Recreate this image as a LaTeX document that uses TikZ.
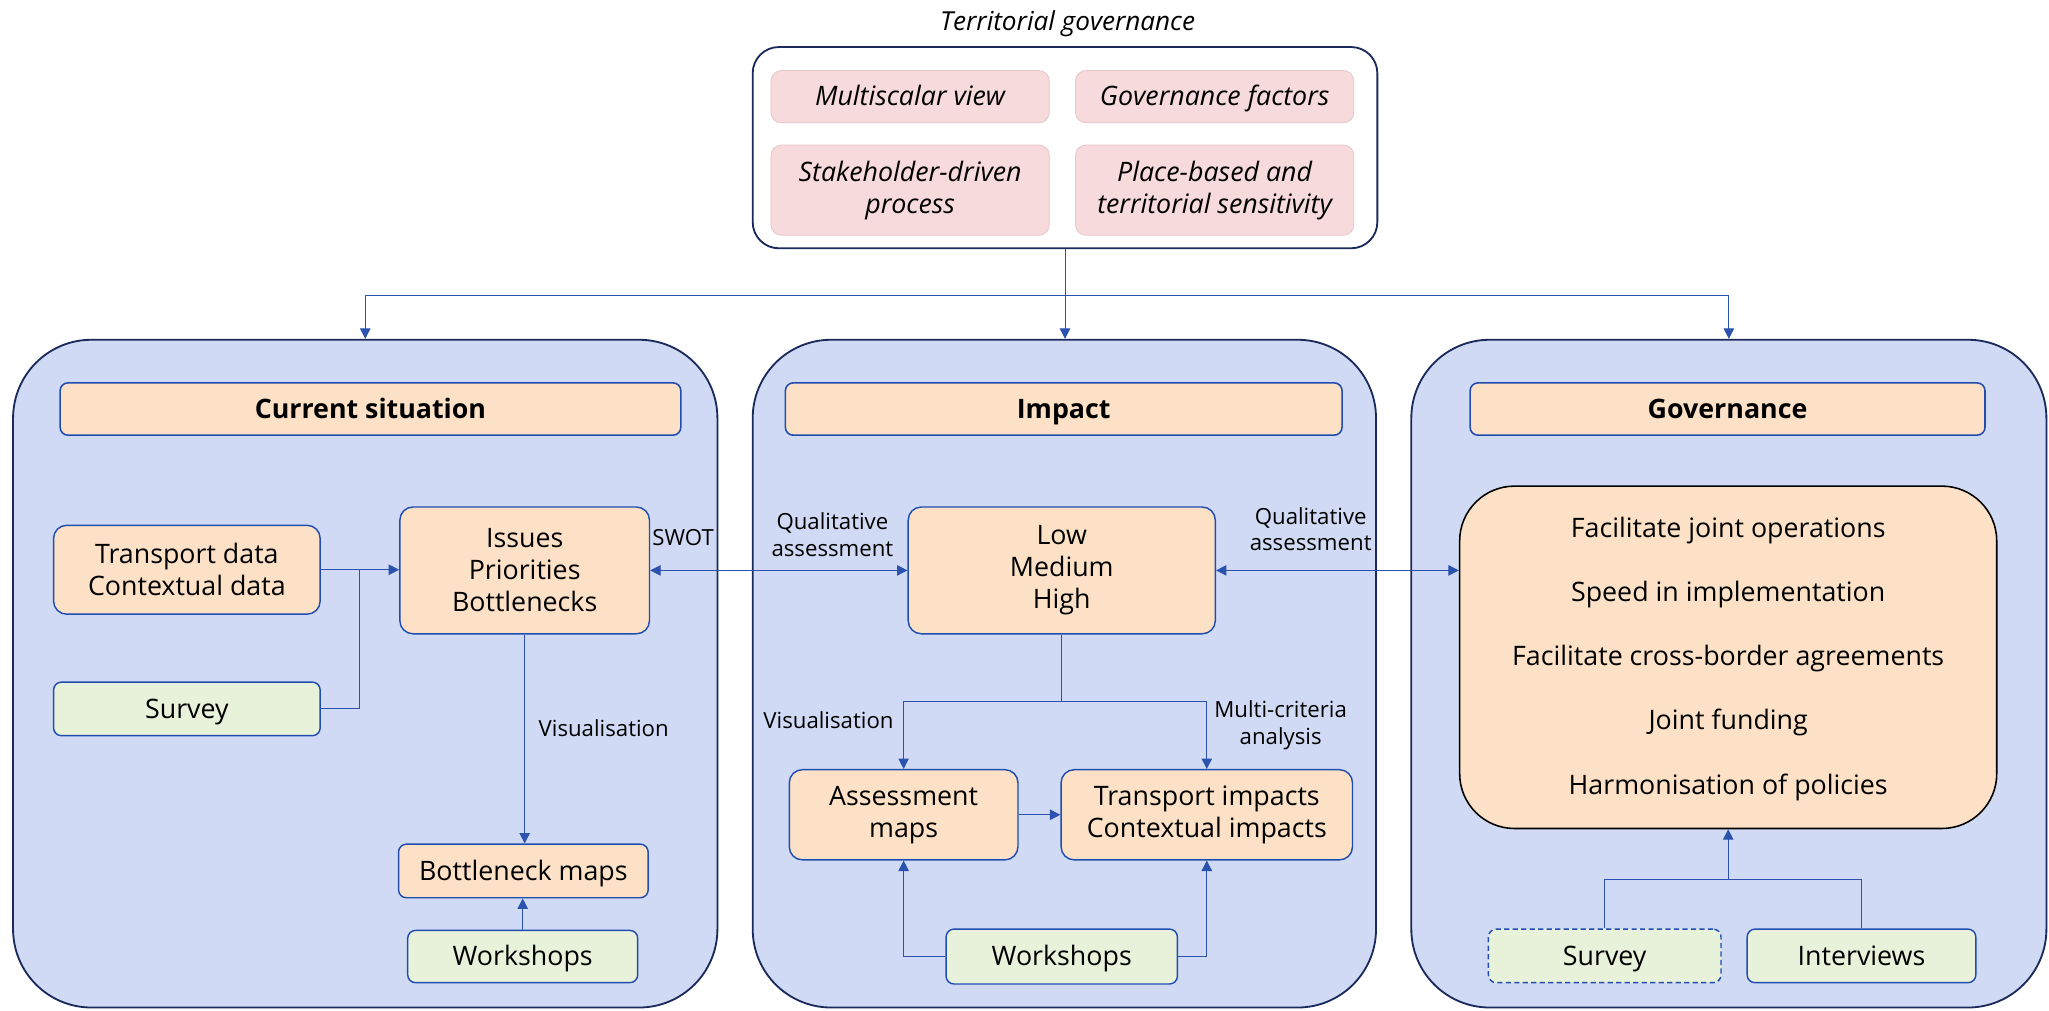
\documentclass[tikz,border=0pt]{standalone}
\usepackage{fontspec}
\setmainfont{Open Sans}
\usetikzlibrary{arrows.meta,positioning}
\definecolor{navy}{HTML}{1B2A5C}
\definecolor{nblue}{HTML}{1F4DB0}
\definecolor{cblue}{HTML}{2A52AE}
\definecolor{panelfill}{HTML}{D0DAF4}
\definecolor{peach}{HTML}{FDE1C6}
\definecolor{greenf}{HTML}{E8F1DA}
\definecolor{pinkf}{HTML}{F7DADB}
\definecolor{pinkd}{HTML}{E6C6C8}
\begin{document}
\begin{tikzpicture}[x=1pt,y=-1pt,
  txt/.style={font=\fontsize{20.5}{24.5}\selectfont},
  one/.style={text height=15pt, text depth=1pt},
  lbl/.style={font=\fontsize{17}{20.5}\selectfont, inner sep=0, align=center},
  panel/.style={draw=navy, line width=1.4pt, fill=panelfill, rounded corners=60pt, inner sep=0},
  hdr/.style={draw=nblue, line width=1.2pt, fill=peach, rounded corners=6pt, inner sep=0, one, font=\fontsize{20.5}{24.5}\selectfont\bfseries},
  pbox/.style={draw=nblue, line width=1.1pt, fill=peach, rounded corners=10pt, inner sep=0, align=center, txt},
  gbox/.style={draw=nblue, line width=1.1pt, fill=greenf, rounded corners=6pt, inner sep=0, align=center, txt, one},
  kbox/.style={draw=pinkd, line width=0.6pt, fill=pinkf, rounded corners=8pt, inner sep=0, align=center, font=\fontsize{20.5}{24.5}\selectfont\itshape},
  line/.style={draw=cblue, line width=0.8pt},
  arr/.style={line, -{Triangle[length=8pt,width=8pt]}},
  darr/.style={line, {Triangle[length=8pt,width=8pt]}-{Triangle[length=8pt,width=8pt]}},
]
\useasboundingbox (0,0) rectangle (1568,773);
\fill[white] (0,0) rectangle (1568,773);

% title and top box
\node[font=\fontsize{20}{24}\selectfont\itshape, inner sep=0, one] (title) at (817,16) {Territorial governance};
\node[draw=navy, line width=1.4pt, fill=white, rounded corners=20pt, minimum width=478pt, minimum height=154pt, inner sep=0] (top) at (815,113) {};
\node[kbox, one, minimum width=213pt, minimum height=40pt] (k1) at (696.5,74) {Multiscalar view};
\node[kbox, one, minimum width=213pt, minimum height=40pt] (k2) at (929.5,74) {Governance factors};
\node[kbox, minimum width=213pt, minimum height=69pt] (k3) at (696.5,145.5) {Stakeholder-driven\\process};
\node[kbox, minimum width=213pt, minimum height=69pt] (k4) at (929.5,145.5) {Place-based and\\territorial sensitivity};

% panels
\node[panel, minimum width=539pt, minimum height=511pt] (p1) at (279.5,515.5) {};
\node[panel, minimum width=477pt, minimum height=511pt] (p2) at (814.5,515.5) {};
\node[panel, minimum width=486pt, minimum height=511pt] (p3) at (1323,515.5) {};

% top connectors
\coordinate (tj) at (815,226);
\draw[line] (top.south) -- (tj);
\draw[arr] (tj) -| (p1.north);
\draw[arr] (tj) -| (p3.north);
\draw[arr] (tj) -- (tj |- p2.north);

% headers
\node[hdr, minimum width=475pt, minimum height=40pt] (h1) at (283.5,313) {Current situation};
\node[hdr, minimum width=426pt, minimum height=40pt] (h2) at (814,313) {Impact};
\node[hdr, minimum width=394pt, minimum height=40pt] (h3) at (1322,313) {Governance};

% left panel
\node[pbox, minimum width=204pt, minimum height=68pt] (td) at (143,436) {Transport data\\Contextual data};
\node[gbox, minimum width=204pt, minimum height=41pt] (sv1) at (143,542.5) {Survey};
\node[pbox, minimum width=191pt, minimum height=97pt] (iss) at (401.5,436.5) {Issues\\Priorities\\Bottlenecks};
\node[pbox, one, rounded corners=6pt, minimum width=191pt, minimum height=41pt] (bm) at (400.5,666.5) {Bottleneck maps};
\node[gbox, minimum width=176pt, minimum height=40pt] (ws1) at (400,732) {Workshops};

\coordinate (lj) at (275,436);
\draw[arr] (td.east) -- (td.east -| iss.west);
\draw[line] (sv1.east) -| (lj);
\draw[arr] (iss.south) -- (iss.south |- bm.north);
\draw[arr] (ws1.north) -- (ws1.north |- bm.south);
\node[lbl] (lv1) at (462,557) {Visualisation};

% middle panel
\node[pbox, minimum width=235pt, minimum height=97pt] (lmh) at (812.5,436.5) {Low\\Medium\\High};
\node[pbox, minimum width=175pt, minimum height=69pt] (am) at (691.5,623.5) {Assessment\\maps};
\node[pbox, minimum width=223pt, minimum height=69pt] (ti) at (923.5,623.5) {Transport impacts\\Contextual impacts};
\node[gbox, minimum width=177pt, minimum height=42pt] (ws2) at (812.5,732) {Workshops};

\coordinate (mj) at (812.5,537);
\draw[line] (lmh.south) -- (mj);
\draw[arr] (mj) -| (am.north);
\draw[arr] (mj) -| (ti.north);
\draw[arr] (am.east) -- (am.east -| ti.west);
\draw[arr] (ws2.west) -| (am.south);
\draw[arr] (ws2.east) -| (ti.south);
\node[lbl] (lv2) at (634,551) {Visualisation};
\node[lbl] (lmc) at (980,555) {Multi-criteria\\analysis};

% right panel
\node[draw=black, line width=1.2pt, fill=peach, rounded corners=42pt, minimum width=411pt, minimum height=262pt, inner sep=0] (gb) at (1322.5,503) {};
\node[txt, one, inner sep=0] (g1) at (1322.5,404) {Facilitate joint operations};
\node[txt, one, inner sep=0] (g2) at (1322.5,453) {Speed in implementation};
\node[txt, one, inner sep=0] (g3) at (1322.5,502) {Facilitate cross-border agreements};
\node[txt, one, inner sep=0] (g4) at (1322.5,551) {Joint funding};
\node[txt, one, inner sep=0] (g5) at (1322.5,601) {Harmonisation of policies};
\node[gbox, dashed, dash pattern=on 4pt off 2.5pt, minimum width=178pt, minimum height=41pt] (sv2) at (1228,731.5) {Survey};
\node[gbox, minimum width=175pt, minimum height=41pt] (iv) at (1424.5,731.5) {Interviews};

\coordinate (rj) at (1322.5,673);
\draw[line] (sv2.north) |- (rj);
\draw[line] (iv.north) |- (rj);
\draw[arr] (rj) -- (gb.south);

% cross-panel double arrows
\draw[darr] (iss.east) -- (iss.east -| lmh.west);
\draw[darr] (lmh.east) -- (lmh.east -| gb.west);
\node[lbl, anchor=west] (swot) at (499,411) {SWOT};
\node[lbl] (qa1) at (637,409) {Qualitative\\assessment};
\node[lbl] (qa2) at (1003,405) {Qualitative\\assessment};
\end{tikzpicture}
\end{document}
